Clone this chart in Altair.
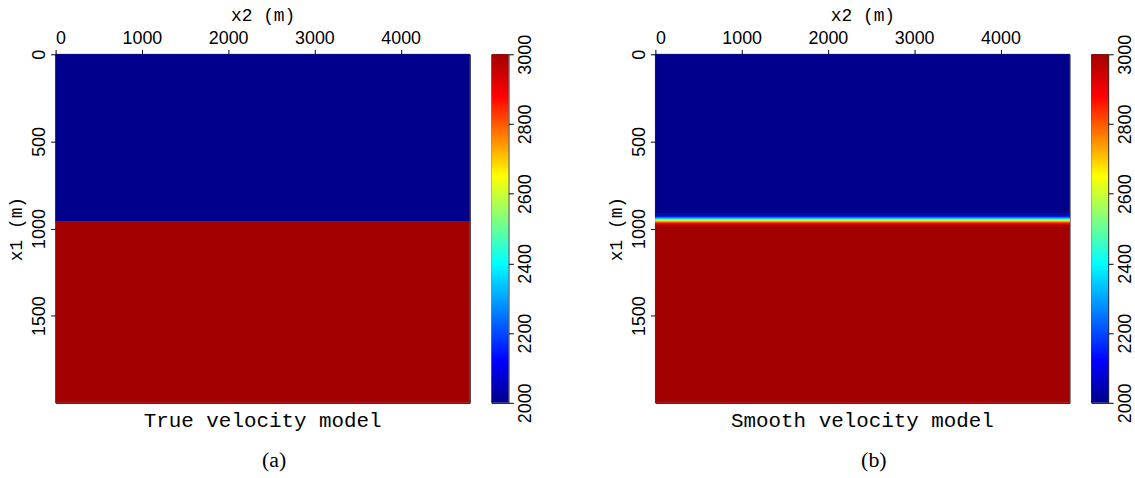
import altair as alt
import pandas as pd

# ---- data ----
x_extent = [0, 4800]          # x2 (m)
depth_extent = [0, 2000]      # x1 (m)
vel_domain = [2000, 3000]     # velocity colour range

# True model: two layers
true_top = [0, 960]
true_bottom = [960, 2000]
true_vel = [2000, 3000]

# Smooth model: thin bands across the interface
smooth_top = [0, 915, 920, 925, 930, 935, 940, 945, 950, 955, 960, 965, 970, 975, 980, 985, 990]
smooth_bottom = [915, 920, 925, 930, 935, 940, 945, 950, 955, 960, 965, 970, 975, 980, 985, 990, 2000]
smooth_vel = [2000, 2010, 2030, 2070, 2130, 2220, 2330, 2440, 2550, 2650, 2750, 2830, 2900, 2945, 2975, 2990, 3000]

# jet-like colour map
jet_values = [2000, 2120, 2400, 2650, 2880, 3000]
jet_colors = ["#00008C", "#0000FF", "#00FFFF", "#FFFF00", "#FF0000", "#A30000"]

x_ticks = [0, 1000, 2000, 3000, 4000]
y_ticks = [0, 500, 1000, 1500]
cbar_ticks = [2000, 2200, 2400, 2600, 2800, 3000]

titles = ["True velocity model", "Smooth velocity model"]
letters = ["(a)", "(b)"]

PW, PH = 417, 351
CW = 17

color_scale = alt.Scale(domain=jet_values, range=jet_colors, interpolate="rgb")


def heat_panel(top, bottom, vel, title, letter):
    df = pd.DataFrame({"xa": [x_extent[0]] * len(top), "xb": [x_extent[1]] * len(top),
                       "top": top, "bottom": bottom, "vel": vel})
    rect = alt.Chart(df).mark_rect(strokeWidth=0.6).encode(
        x=alt.X("xa:Q",
                scale=alt.Scale(domain=x_extent, nice=False, zero=False),
                axis=alt.Axis(orient="top", values=x_ticks, title="x2 (m)", format="d",
                              labelFont="Liberation Sans", labelFontSize=18,
                              titleFont="Liberation Mono", titleFontSize=18,
                              titleFontWeight="normal", labelPadding=2, titlePadding=5,
                              tickSize=5, domain=False, grid=False)),
        x2="xb:Q",
        y=alt.Y("top:Q",
                scale=alt.Scale(domain=depth_extent, reverse=True, nice=False, zero=False),
                axis=alt.Axis(orient="left", values=y_ticks, title="x1 (m)", format="d",
                              labelFont="Liberation Sans", labelFontSize=18,
                              labelAngle=270, labelAlign="center", labelBaseline="bottom",
                              titleFont="Liberation Mono", titleFontSize=18,
                              titleFontWeight="normal", labelPadding=2, titlePadding=5,
                              tickSize=5, domain=False, grid=False)),
        y2="bottom:Q",
        color=alt.Color("vel:Q", scale=color_scale, legend=None),
        stroke=alt.Stroke("vel:Q", scale=color_scale, legend=None),
    )
    ttl = alt.Chart(pd.DataFrame({"label": [title]})).mark_text(
        font="Liberation Mono", fontSize=21, baseline="alphabetic", align="center",
        color="black"
    ).encode(text="label:N", x=alt.value(PW / 2), y=alt.value(375))
    lab = alt.Chart(pd.DataFrame({"label": [letter]})).mark_text(
        font="Liberation Serif", fontSize=22, baseline="alphabetic", align="center",
        color="black"
    ).encode(text="label:N", x=alt.value(220), y=alt.value(416))
    return alt.layer(rect, ttl, lab).properties(width=PW, height=PH)


def colorbar():
    stops = [alt.GradientStop(color=c, offset=(v - vel_domain[0]) / (vel_domain[1] - vel_domain[0]))
             for v, c in zip(jet_values, jet_colors)]
    grad = alt.LinearGradient(gradient="linear", stops=stops, x1=0, x2=0, y1=1, y2=0)
    df = pd.DataFrame({"lo": [vel_domain[0]], "hi": [vel_domain[1]]})
    return alt.Chart(df).mark_rect(color=grad).encode(
        y=alt.Y("lo:Q",
                scale=alt.Scale(domain=vel_domain, nice=False, zero=False),
                axis=alt.Axis(orient="right", values=cbar_ticks, title=None, format="d",
                              labelFont="Liberation Sans", labelFontSize=18,
                              labelAngle=270, labelAlign="center", labelBaseline="top",
                              labelPadding=3, tickSize=5, domain=False, grid=False)),
        y2="hi:Q",
    ).properties(width=CW, height=PH)


group_a = alt.hconcat(heat_panel(true_top, true_bottom, true_vel, titles[0], letters[0]),
                      colorbar(), spacing=20)
group_b = alt.hconcat(heat_panel(smooth_top, smooth_bottom, smooth_vel, titles[1], letters[1]),
                      colorbar(), spacing=20)

chart = alt.hconcat(group_a, group_b, spacing=72).properties(
    padding={"left": 7, "top": 4, "right": 0, "bottom": 0},
    background="white",
).configure_view(
    stroke="black", strokeWidth=1
).configure_axis(
    labelColor="black", titleColor="black", tickColor="black"
)

chart.save("out.html", embed_options={"renderer": "svg", "actions": False})
